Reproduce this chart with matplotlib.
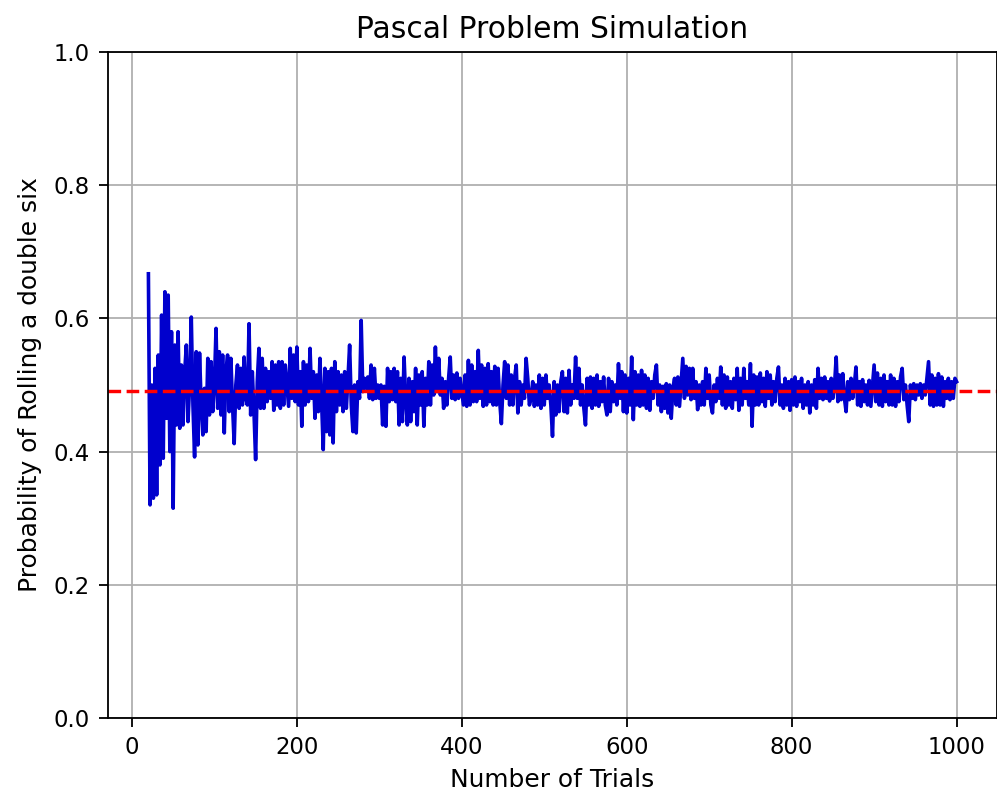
import matplotlib
matplotlib.use("Agg")
import matplotlib.pyplot as plt

trials = list(range(20, 1001, 2))
probabilities = [
    0.667, 0.320, 0.500, 0.330, 0.525, 0.335, 0.545, 0.380, 0.605, 0.390,
    0.640, 0.450, 0.635, 0.400, 0.580, 0.315, 0.560, 0.440, 0.580, 0.435,
    0.530, 0.440, 0.520, 0.560, 0.445, 0.500, 0.602, 0.470, 0.392, 0.550,
    0.410, 0.548, 0.470, 0.425, 0.495, 0.430, 0.540, 0.455, 0.535, 0.460,
    0.500, 0.585, 0.465, 0.550, 0.455, 0.545, 0.428, 0.520, 0.545, 0.460,
    0.540, 0.470, 0.412, 0.500, 0.530, 0.465, 0.525, 0.470, 0.542, 0.480,
    0.470, 0.592, 0.455, 0.520, 0.460, 0.388, 0.505, 0.555, 0.465, 0.540,
    0.465, 0.525, 0.475, 0.520, 0.480, 0.535, 0.462, 0.530, 0.470, 0.535,
    0.465, 0.535, 0.470, 0.530, 0.500, 0.468, 0.555, 0.480, 0.545, 0.475,
    0.557, 0.470, 0.520, 0.438, 0.535, 0.470, 0.530, 0.475, 0.555, 0.480,
    0.520, 0.450, 0.515, 0.460, 0.540, 0.475, 0.403, 0.525, 0.430, 0.520,
    0.425, 0.525, 0.413, 0.535, 0.460, 0.520, 0.470, 0.515, 0.460, 0.520,
    0.465, 0.510, 0.560, 0.470, 0.430, 0.500, 0.428, 0.505, 0.480, 0.597,
    0.490, 0.510, 0.495, 0.512, 0.480, 0.530, 0.478, 0.525, 0.480, 0.500,
    0.480, 0.500, 0.440, 0.498, 0.438, 0.525, 0.475, 0.520, 0.478, 0.525,
    0.475, 0.520, 0.440, 0.510, 0.445, 0.542, 0.480, 0.440, 0.510, 0.445,
    0.505, 0.460, 0.525, 0.440, 0.515, 0.470, 0.520, 0.438, 0.510, 0.470,
    0.535, 0.470, 0.530, 0.485, 0.557, 0.490, 0.540, 0.485, 0.510, 0.465,
    0.505, 0.470, 0.510, 0.542, 0.480, 0.515, 0.478, 0.518, 0.480, 0.510,
    0.490, 0.470, 0.515, 0.468, 0.537, 0.470, 0.530, 0.475, 0.520, 0.475,
    0.552, 0.480, 0.530, 0.468, 0.525, 0.470, 0.532, 0.475, 0.520, 0.470,
    0.528, 0.470, 0.525, 0.475, 0.442, 0.500, 0.535, 0.480, 0.530, 0.470,
    0.515, 0.470, 0.510, 0.530, 0.458, 0.505, 0.470, 0.500, 0.480, 0.540,
    0.510, 0.470, 0.480, 0.505, 0.468, 0.500, 0.470, 0.515, 0.465, 0.510,
    0.470, 0.515, 0.480, 0.500, 0.470, 0.423, 0.505, 0.455, 0.500, 0.460,
    0.505, 0.520, 0.460, 0.510, 0.458, 0.522, 0.470, 0.500, 0.480, 0.542,
    0.480, 0.525, 0.470, 0.500, 0.465, 0.440, 0.510, 0.470, 0.512, 0.465,
    0.510, 0.470, 0.515, 0.468, 0.505, 0.475, 0.512, 0.470, 0.455, 0.510,
    0.460, 0.505, 0.475, 0.500, 0.470, 0.532, 0.480, 0.520, 0.460, 0.515,
    0.458, 0.510, 0.470, 0.542, 0.448, 0.520, 0.470, 0.515, 0.468, 0.522,
    0.470, 0.515, 0.465, 0.510, 0.462, 0.505, 0.480, 0.515, 0.530, 0.470,
    0.500, 0.460, 0.498, 0.465, 0.502, 0.458, 0.500, 0.450, 0.495, 0.510,
    0.470, 0.512, 0.468, 0.505, 0.540, 0.480, 0.528, 0.485, 0.525, 0.478,
    0.525, 0.480, 0.505, 0.463, 0.500, 0.470, 0.505, 0.470, 0.525, 0.480,
    0.515, 0.470, 0.458, 0.500, 0.475, 0.510, 0.480, 0.527, 0.470, 0.515,
    0.465, 0.512, 0.470, 0.505, 0.465, 0.510, 0.478, 0.525, 0.462, 0.510,
    0.470, 0.525, 0.480, 0.505, 0.470, 0.532, 0.438, 0.515, 0.470, 0.512,
    0.470, 0.518, 0.475, 0.510, 0.468, 0.520, 0.480, 0.515, 0.470, 0.505,
    0.475, 0.510, 0.527, 0.470, 0.500, 0.465, 0.510, 0.470, 0.505, 0.462,
    0.508, 0.470, 0.512, 0.468, 0.505, 0.475, 0.510, 0.465, 0.500, 0.470,
    0.505, 0.458, 0.500, 0.470, 0.508, 0.465, 0.525, 0.480, 0.510, 0.478,
    0.512, 0.480, 0.505, 0.476, 0.510, 0.480, 0.500, 0.542, 0.475, 0.515,
    0.478, 0.517, 0.480, 0.460, 0.505, 0.478, 0.510, 0.480, 0.500, 0.527,
    0.470, 0.505, 0.468, 0.508, 0.475, 0.500, 0.470, 0.507, 0.468, 0.500,
    0.530, 0.475, 0.518, 0.470, 0.510, 0.468, 0.515, 0.475, 0.505, 0.470,
    0.515, 0.470, 0.510, 0.468, 0.505, 0.475, 0.512, 0.525, 0.478, 0.500,
    0.470, 0.445, 0.500, 0.480, 0.502, 0.478, 0.500, 0.485, 0.502, 0.480,
    0.500, 0.485, 0.510, 0.535, 0.470, 0.515, 0.468, 0.510, 0.470, 0.517,
    0.470, 0.512, 0.468, 0.505, 0.480, 0.510, 0.478, 0.505, 0.480, 0.510,
    0.505,
]
theoretical = 0.4914

s = 1.64
plt.rcParams['font.family'] = ['DejaVu Sans']

fig = plt.figure(figsize=(9.97, 7.99), dpi=100)
ax = fig.add_axes([108/997, 1 - 718/799, (997 - 108)/997, (718 - 52)/799])

ax.plot(trials, probabilities, color='mediumblue', lw=2.6)
ax.axhline(theoretical, color='red', linestyle='--', lw=1.5*s)

ax.set_xlim(-29, 1049)
ax.set_ylim(0, 1)
ax.set_xticks([0, 200, 400, 600, 800, 1000])
ax.set_yticks([0.0, 0.2, 0.4, 0.6, 0.8, 1.0])
ax.grid(True, color='#b0b0b0', lw=0.8*s)
ax.set_axisbelow(True)
ax.tick_params(labelsize=16.4, length=6.3, width=0.8*s, pad=7)
for sp in ax.spines.values():
    sp.set_linewidth(0.8*s)

ax.set_xlabel('Number of Trials', fontsize=17.9, labelpad=6)
ax.set_ylabel('Probability of Rolling a double six', fontsize=17.9, labelpad=8)
ax.set_title('Pascal Problem Simulation', fontsize=21.4, pad=10)

fig.savefig('out.png', dpi=100)
